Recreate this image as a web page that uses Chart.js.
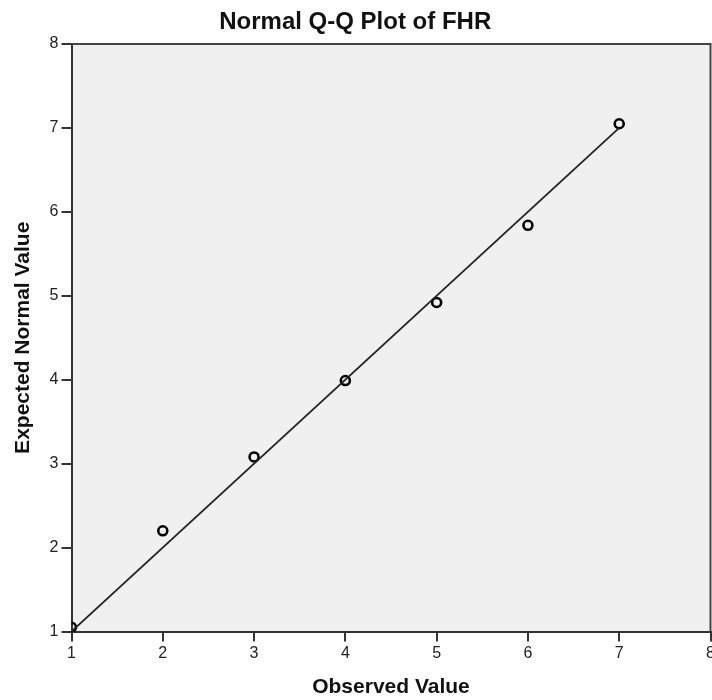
<!DOCTYPE html>
<html>
<head>
<meta charset="utf-8">
<script src="https://cdn.jsdelivr.net/npm/chart.js@4"></script>
<style>
  html, body { margin: 0; padding: 0; background: #fff; overflow: hidden; }
  #wrap { width: 720px; height: 700px; }
</style>
</head>
<body>
<div id="wrap"><canvas id="qqChart" width="720" height="700"></canvas></div>
<script>
// 관측값 / 기대 정규값
const observed = [1, 2, 3, 4, 5, 6, 7];
const expected = [1.05, 2.20, 3.08, 3.99, 4.92, 5.84, 7.05];
// 기준선 (y = x)
const refLineX = [1, 7];
const refLineY = [1, 7];
const xTicks = [1, 2, 3, 4, 5, 6, 7, 8];
const yTicks = [1, 2, 3, 4, 5, 6, 7, 8];

const chartTitle = 'Normal Q-Q Plot of FHR';
const xTitle = 'Observed Value';
const yTitle = 'Expected Normal Value';

const FONT = 'Arial, "Liberation Sans", sans-serif';

// 플롯 영역 배경 + 위/오른쪽 테두리
const plotFrame = {
    id: 'plotFrame',
    beforeDraw(chart) {
        const { ctx, chartArea: a } = chart;
        ctx.save();
        ctx.fillStyle = '#f0f0f0';
        ctx.fillRect(a.left, a.top, a.right - a.left, a.bottom - a.top);
        ctx.restore();
    },
    afterDatasetsDraw(chart) {
        const { ctx, chartArea: a } = chart;
        ctx.save();
        ctx.strokeStyle = '#444';
        ctx.lineWidth = 2;
        ctx.beginPath();
        ctx.moveTo(a.left, a.top);
        ctx.lineTo(a.right, a.top);
        ctx.lineTo(a.right, a.bottom);
        ctx.stroke();
        ctx.restore();
    }
};

new Chart(document.getElementById('qqChart'), {
    type: 'scatter',
    data: {
        datasets: [
            {
                type: 'line',
                data: refLineX.map((x, i) => ({ x: x, y: refLineY[i] })),
                borderColor: '#222',
                borderWidth: 1.8,
                pointRadius: 0,
                fill: false
            },
            {
                data: observed.map((x, i) => ({ x: x, y: expected[i] })),
                pointStyle: 'circle',
                pointRadius: 4.5,
                borderWidth: 2.6,
                borderColor: '#000',
                backgroundColor: 'rgba(0,0,0,0)'
            }
        ]
    },
    options: {
        responsive: false,
        animation: false,
        layout: { padding: { left: 0, right: 9.5, top: 0, bottom: 0 } },
        plugins: {
            legend: { display: false },
            tooltip: { enabled: false },
            title: {
                display: true,
                text: chartTitle,
                color: '#111',
                font: { family: FONT, size: 24, weight: 'bold', lineHeight: 1.2 },
                padding: { top: 7.6, bottom: 7.6 }
            }
        },
        scales: {
            x: {
                type: 'linear',
                min: 1,
                max: 8,
                afterBuildTicks: (s) => { s.ticks = xTicks.map(v => ({ value: v })); },
                afterFit: (s) => { s.height = 68.5; },
                border: { color: '#333', width: 2 },
                grid: { drawOnChartArea: false, color: '#333', lineWidth: 2, tickLength: 10 },
                ticks: { color: '#222', padding: 2, maxRotation: 0, font: { family: FONT, size: 16 } },
                title: {
                    display: true,
                    text: xTitle,
                    color: '#111',
                    font: { family: FONT, size: 21, weight: 'bold', lineHeight: 1.2 },
                    padding: { top: 0, bottom: 0 }
                }
            },
            y: {
                type: 'linear',
                min: 1,
                max: 8,
                afterBuildTicks: (s) => { s.ticks = yTicks.map(v => ({ value: v })); },
                afterFit: (s) => { s.width = 71.5; },
                border: { color: '#333', width: 2 },
                grid: { drawOnChartArea: false, color: '#333', lineWidth: 2, tickLength: 10 },
                ticks: { color: '#222', padding: 3, font: { family: FONT, size: 16 } },
                title: {
                    display: true,
                    text: yTitle,
                    color: '#111',
                    font: { family: FONT, size: 21, weight: 'bold', lineHeight: 1.2 },
                    padding: { top: 10.5, bottom: 0 }
                }
            }
        }
    },
    plugins: [plotFrame]
});
</script>
</body>
</html>
